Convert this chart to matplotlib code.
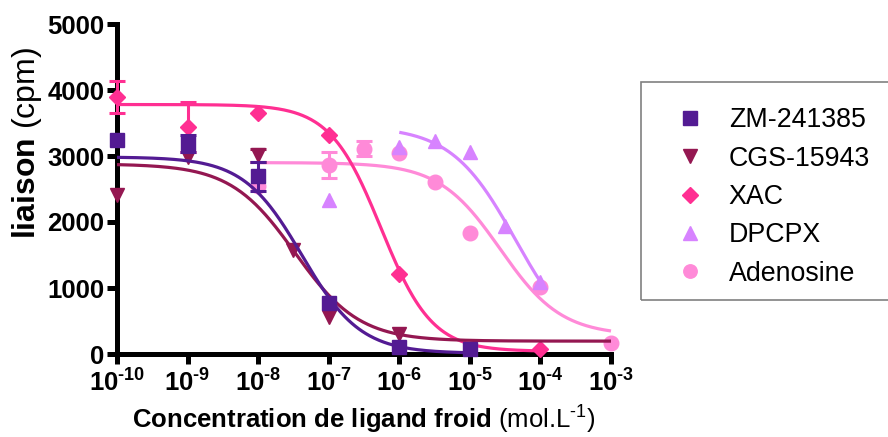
import numpy as np
import matplotlib
matplotlib.use("Agg")
import matplotlib.pyplot as plt
from matplotlib.patches import Rectangle
from matplotlib.ticker import FixedLocator, FixedFormatter, NullLocator

plt.rcParams['font.family'] = ['Liberation Sans', 'DejaVu Sans']
plt.rcParams['mathtext.fontset'] = 'custom'
plt.rcParams['mathtext.rm'] = 'Liberation Sans'
plt.rcParams['mathtext.bf'] = 'Liberation Sans:bold'
plt.rcParams['mathtext.it'] = 'Liberation Sans:italic'

HY = "\u2010"  # short hyphen used in exponents

# ---------------- data ----------------
series_names = ["ZM-241385", "CGS-15943", "XAC", "DPCPX", "Adenosine"]
series_colors = ["#531B93", "#941751", "#FF2F92", "#D783FF", "#FF8AD8"]
series_markers = ["s", "v", "D", "^", "o"]

zm_x = [1e-10, 1e-9, 1e-8, 1e-7, 1e-6, 1e-5]
zm_y = [3250, 3192, 2690, 777, 111, 71]
zm_err = [0, 130, 220, 0, 0, 0]

cgs_x = [1e-10, 1e-9, 1e-8, 3.16e-8, 1e-7, 1e-6]
cgs_y = [2409, 2980, 3010, 1576, 556, 303]
cgs_err = [0, 0, 100, 0, 0, 0]

xac_x = [1e-10, 1e-9, 1e-8, 1e-7, 1e-6, 1e-4]
xac_y = [3899, 3444, 3656, 3318, 1207, 71]
xac_err = [240, 380, 0, 0, 0, 0]

dpcpx_x = [1e-7, 1e-6, 3.16e-6, 1e-5, 3.16e-5, 1e-4]
dpcpx_y = [2333, 3141, 3232, 3056, 1939, 1096]
dpcpx_err = [0, 0, 0, 0, 0, 0]

ado_x = [1e-8, 1e-7, 3.16e-7, 1e-6, 3.16e-6, 1e-5, 1e-4, 1e-3]
ado_y = [2550, 2864, 3110, 3050, 2600, 1828, 1020, 162]
ado_err = [0, 200, 110, 0, 0, 0, 0, 0]

# fitted 4-parameter logistic curves: top, bottom, logIC50, hill
zm_fit = [2985, 10, -7.38, 1.05]
cgs_fit = [2880, 195, -7.48, 0.95]
xac_fit = [3780, 40, -6.26, 1.2]
dpcpx_fit = [3450, 0, -4.35, 0.95]
ado_fit = [2900, 280, -4.57, 1.0]

# fitted range (log10 of concentration)
zm_range = [-10, -5]
cgs_range = [-10, -3]
xac_range = [-10, -4]
dpcpx_range = [-6, -4]
ado_range = [-8, -3]

x_tick_exponents = [-10, -9, -8, -7, -6, -5, -4, -3]
x_tick_labels = ["$\\mathbf{10^{" + HY + "%d}}$" % (-e) for e in x_tick_exponents]
y_ticks = [0, 1000, 2000, 3000, 4000, 5000]

series = [
    (zm_x, zm_y, zm_err, zm_fit, zm_range),
    (cgs_x, cgs_y, cgs_err, cgs_fit, cgs_range),
    (xac_x, xac_y, xac_err, xac_fit, xac_range),
    (dpcpx_x, dpcpx_y, dpcpx_err, dpcpx_fit, dpcpx_range),
    (ado_x, ado_y, ado_err, ado_fit, ado_range),
]


def logistic(logx, p):
    top, bottom, c, h = p
    return bottom + (top - bottom) / (1 + 10 ** (h * (logx - c)))


# ---------------- figure ----------------
fig = plt.figure(figsize=(8.88, 4.37), dpi=100)
ax = fig.add_axes([117 / 888, 1 - 354 / 437, 494 / 888, 330 / 437])

marker_sizes = {"s": 10.5, "v": 10.5, "D": 8.5, "^": 10.5, "o": 10.5}
handles = []
n = len(series)
for i, (sx, sy, se, fit, rng) in enumerate(series):
    col = series_colors[i]
    mk = series_markers[i]
    z = 10 + (n - i) * 2
    lx = np.linspace(rng[0], rng[1], 300)
    ax.plot(10 ** lx, logistic(lx, fit), color=col, lw=2.3, zorder=z,
            solid_capstyle='butt', clip_on=False)
    sx = np.array(sx); sy = np.array(sy); se = np.array(se)
    m = se > 0
    if m.any():
        ax.errorbar(sx[m], sy[m], yerr=se[m], fmt='none', ecolor=col,
                    elinewidth=2.2, capsize=6, capthick=2.2, zorder=z + 1,
                    clip_on=False)
    h, = ax.plot(sx, sy, linestyle='none', marker=mk, ms=marker_sizes[mk],
                 color=col, mec=col, zorder=z + 1, clip_on=False,
                 label=series_names[i])
    handles.append(h)

ax.set_xscale('log')
ax.set_xlim(1e-10, 1e-3)
ax.set_ylim(0, 5000)
ax.xaxis.set_major_locator(FixedLocator([10.0 ** e for e in x_tick_exponents]))
ax.xaxis.set_major_formatter(FixedFormatter(x_tick_labels))
ax.xaxis.set_minor_locator(NullLocator())
ax.set_yticks(y_ticks)

for s in ['top', 'right']:
    ax.spines[s].set_visible(False)
for s in ['left', 'bottom']:
    ax.spines[s].set_linewidth(3.6)
    ax.spines[s].set_capstyle('projecting')
ax.tick_params(axis='both', which='major', length=7, width=3.6,
               direction='out')
ax.tick_params(axis='y', pad=2, labelsize=18.5)
ax.tick_params(axis='x', pad=4, labelsize=18.5)
for lab in ax.get_yticklabels():
    lab.set_fontweight('bold')

ax.set_xlabel("$\\mathbf{Concentration\\ de\\ ligand\\ froid}$ (mol.L$^{" + HY + "1}$)",
              fontsize=18.5, labelpad=5)
ax.set_ylabel("$\\mathbf{liaison}$ (cpm)", fontsize=23)
ax.yaxis.set_label_coords(-0.148, 0.64)

# legend
fig.patches.append(Rectangle((641 / 888, 1 - 300 / 437), 0.4, 218 / 437,
                             transform=fig.transFigure, fill=False,
                             edgecolor='#808080', lw=1.2))
leg = fig.legend(handles=handles, loc='center left',
                 bbox_to_anchor=(670.7 / 888, 1 - 197 / 437),
                 frameon=False, fontsize=19.3, handlelength=1.45,
                 handletextpad=0.72, labelspacing=0.46, borderpad=0,
                 borderaxespad=0, numpoints=1, markerscale=0.92)

fig.savefig("out.png", dpi=100)
